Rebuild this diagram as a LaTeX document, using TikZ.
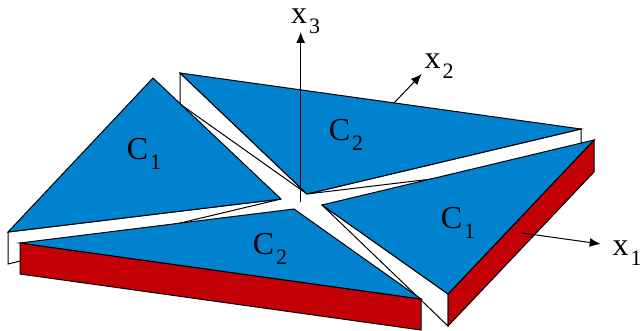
\documentclass[tikz,border=0pt]{standalone}
\usepackage{fontspec}
\setmainfont{Liberation Serif}
\usetikzlibrary{arrows.meta}
\definecolor{plate}{HTML}{0082CE}
\definecolor{edge}{HTML}{C20005}
\newcommand{\sublabel}[2]{#1\kern2pt\raisebox{-0.31em}{\fontsize{22}{22}\selectfont #2}}
\begin{document}
\begin{tikzpicture}[x=1pt,y=-1pt,
  every node/.style={font=\fontsize{32}{32}\selectfont,inner sep=0pt},
  wall/.style={draw=black,fill=white,line width=1pt,line join=miter},
  side/.style={draw=black,fill=edge,line width=1pt,line join=miter},
  top/.style={draw=black,fill=plate,line width=1pt,line join=miter},
  ar/.style={-{Latex[length=11pt,width=9pt]},line width=1pt}]
\useasboundingbox (0,0) rectangle (640,331);
% plate corners
\coordinate (a1) at (153,78);
\coordinate (a2) at (8,232);
\coordinate (a3) at (281,199);
\coordinate (b1) at (180,73);
\coordinate (b2) at (581,129);
\coordinate (b3) at (307,194);
\coordinate (c1) at (594,140);
\coordinate (c2) at (448,294);
\coordinate (c3) at (322,205);
\coordinate (d1) at (20,243);
\coordinate (d2) at (421,299);
\coordinate (d3) at (294,209);
% axis ends
\coordinate (o3) at (300.7,202);
\coordinate (e3) at (300.7,32);
\coordinate (o2) at (394,103);
\coordinate (e2) at (421.7,74);
\coordinate (o1) at (522,233);
\coordinate (e1) at (600.7,244);
% walls
\draw[wall] (a2) -- (8,264) -- (a3) -- cycle;
\draw[wall] (b1) -- (180,104) -- (b3) -- cycle;
\draw[wall] (b2) -- (581,161) -- (b3) -- cycle;
\draw[wall] (c3) -- (448,326) -- (c2) -- cycle;
\draw[side] (d1) -- (d2) -- (421,330) -- (20,274) -- cycle;
\draw[side] (c1) -- (594,172) -- (448,326) -- (c2) -- cycle;
% plates
\draw[top] (a1) -- (a2) -- (a3) -- cycle;
\draw[top] (b1) -- (b2) -- (b3) -- cycle;
\draw[top] (c1) -- (c2) -- (c3) -- cycle;
\draw[top] (d1) -- (d2) -- (d3) -- cycle;
% axes
\draw[ar] (o3) -- (e3);
\draw[ar] (o2) -- (e2);
\draw[ar] (o1) -- (e1);
\node (lx3) at (305.5,21) {\sublabel{x}{3}};
\node (lx2) at (439,66) {\sublabel{x}{2}};
\node (lx1) at (627,253.5) {\sublabel{x}{1}};
\node (lc1a) at (144,154) {\sublabel{C}{1}};
\node (lc2a) at (346,135) {\sublabel{C}{2}};
\node (lc1b) at (458,222.5) {\sublabel{C}{1}};
\node (lc2b) at (270,248.5) {\sublabel{C}{2}};
\end{tikzpicture}
\end{document}
